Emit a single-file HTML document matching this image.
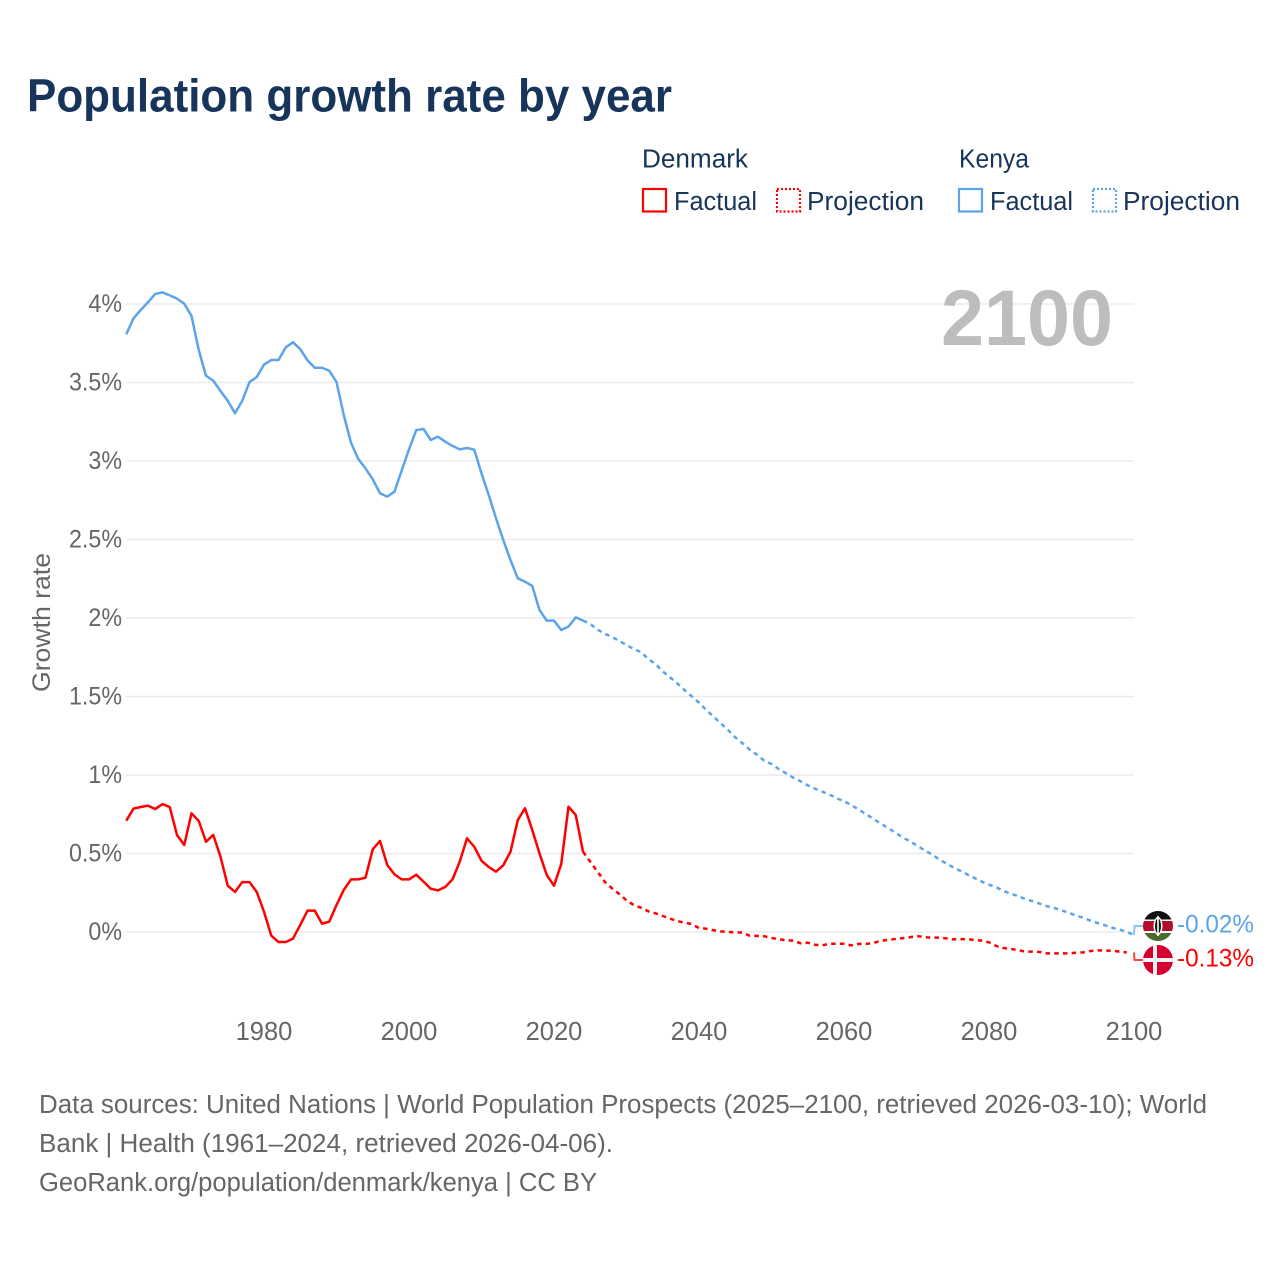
<!DOCTYPE html>
<html lang="en">
<head>
<meta charset="utf-8">
<title>Population growth rate by year</title>
<style>
html,body{margin:0;padding:0;background:#fff;}
svg{display:block;font-family:"Liberation Sans",Arial,sans-serif;}
</style>
</head>
<body>
<svg id="chart" xmlns="http://www.w3.org/2000/svg" width="1280" height="1280" viewBox="0 0 1280 1280">
  <rect width="1280" height="1280" fill="#fff"/>
  <text x="27" y="111.5" font-size="46" font-weight="700" fill="#17345a" textLength="645" lengthAdjust="spacingAndGlyphs">Population growth rate by year</text>

  <g font-size="25.5" fill="#17345a">
    <text x="642" y="167.5" textLength="106" lengthAdjust="spacingAndGlyphs">Denmark</text>
    <text x="959" y="167.5" textLength="70" lengthAdjust="spacingAndGlyphs">Kenya</text>
    <rect x="643" y="189" width="23" height="22.5" fill="none" stroke="#ff0000" stroke-width="2.2"/>
    <text x="674" y="210" textLength="83" lengthAdjust="spacingAndGlyphs">Factual</text>
    <rect x="777" y="189" width="23" height="22.5" fill="none" stroke="#ff0000" stroke-width="2.2" stroke-dasharray="2 2"/>
    <text x="807" y="210" textLength="117" lengthAdjust="spacingAndGlyphs">Projection</text>
    <rect x="959" y="189" width="23" height="22.5" fill="none" stroke="#5ba4ea" stroke-width="2.2"/>
    <text x="990" y="210" textLength="83" lengthAdjust="spacingAndGlyphs">Factual</text>
    <rect x="1093" y="189" width="23" height="22.5" fill="none" stroke="#5ba4ea" stroke-width="2.2" stroke-dasharray="2 2"/>
    <text x="1123" y="210" textLength="117" lengthAdjust="spacingAndGlyphs">Projection</text>
  </g>

  <g id="grid"></g>
  <text x="941" y="345" font-size="79" font-weight="700" fill="#bdbdbd" textLength="172" lengthAdjust="spacingAndGlyphs">2100</text>
  <text transform="translate(50 692) rotate(-90)" font-size="25" fill="#666" textLength="139" lengthAdjust="spacingAndGlyphs">Growth rate</text>
  <g id="yticks"></g>
  <g id="xticks"></g>
  <g id="series" fill="none" stroke-width="2.5" stroke-linejoin="round"></g>

  <defs>
    <clipPath id="clip-ke"><circle cx="1158" cy="926" r="15"/></clipPath>
    <clipPath id="clip-dk"><circle cx="1158" cy="960" r="15"/></clipPath>
  </defs>
  <g clip-path="url(#clip-ke)">
    <rect x="1143" y="911" width="30" height="30" fill="#fff"/>
    <rect x="1143" y="911" width="30" height="8.5" fill="#111"/>
    <rect x="1143" y="921" width="30" height="10" fill="#b0102c"/>
    <rect x="1143" y="933" width="30" height="8" fill="#4a6b2c"/>
    <ellipse cx="1158" cy="926" rx="4.5" ry="9" fill="#fff"/>
    <ellipse cx="1158" cy="926" rx="3" ry="7.5" fill="#111"/>
    <rect x="1157.2" y="916" width="1.6" height="20" fill="#fff"/>
  </g>
  <g clip-path="url(#clip-dk)">
    <rect x="1143" y="945" width="30" height="30" fill="#d4002e"/>
    <rect x="1153" y="945" width="4" height="30" fill="#f2f2f2"/>
    <rect x="1143" y="958" width="30" height="4" fill="#f2f2f2"/>
  </g>
  <text id="label-ke" x="1177" y="932.5" font-size="25" fill="#5ba4ea" textLength="77" lengthAdjust="spacingAndGlyphs"></text>
  <text id="label-dk" x="1177" y="966.5" font-size="25" fill="#ff0000" textLength="77" lengthAdjust="spacingAndGlyphs"></text>

  <g font-size="25.5" fill="#666">
    <text x="39" y="1113" textLength="1168" lengthAdjust="spacingAndGlyphs">Data sources: United Nations | World Population Prospects (2025–2100, retrieved 2026-03-10); World</text>
    <text x="39" y="1152" textLength="574" lengthAdjust="spacingAndGlyphs">Bank | Health (1961–2024, retrieved 2026-04-06).</text>
    <text x="39" y="1191" textLength="558" lengthAdjust="spacingAndGlyphs">GeoRank.org/population/denmark/kenya | CC BY</text>
  </g>
</svg>
<script>
const factualStartYear = 1961;
const projectionStartYear = 2024;
const yTicks = [0, 0.5, 1, 1.5, 2, 2.5, 3, 3.5, 4];
const yTickLabels = ["0%", "0.5%", "1%", "1.5%", "2%", "2.5%", "3%", "3.5%", "4%"];
const xTicks = [1980, 2000, 2020, 2040, 2060, 2080, 2100];
const endLabelKenya = "-0.02%";
const endLabelDenmark = "-0.13%";
const kenyaFactual = [3.807,3.909,3.962,4.011,4.064,4.074,4.055,4.034,4.002,3.924,3.707,3.543,3.512,3.446,3.384,3.304,3.384,3.503,3.535,3.614,3.643,3.643,3.724,3.756,3.713,3.641,3.594,3.594,3.575,3.503,3.293,3.117,3.013,2.953,2.883,2.794,2.773,2.804,2.941,3.074,3.197,3.204,3.134,3.155,3.123,3.096,3.074,3.083,3.072,2.921,2.783,2.635,2.497,2.369,2.253,2.231,2.204,2.051,1.983,1.983,1.924,1.945,2.004,1.983];
const kenyaProjection = [1.983,1.962,1.926,1.900,1.879,1.854,1.828,1.803,1.783,1.739,1.707,1.660,1.622,1.584,1.541,1.501,1.461,1.414,1.372,1.329,1.287,1.240,1.202,1.161,1.129,1.091,1.070,1.038,1.011,0.983,0.960,0.934,0.913,0.894,0.875,0.852,0.832,0.809,0.780,0.752,0.722,0.692,0.665,0.635,0.605,0.580,0.552,0.524,0.497,0.467,0.439,0.414,0.390,0.367,0.344,0.321,0.301,0.285,0.261,0.244,0.229,0.210,0.196,0.180,0.164,0.153,0.138,0.123,0.104,0.091,0.072,0.057,0.043,0.027,0.015,0.002,-0.02];
const denmarkFactual = [0.709,0.786,0.796,0.805,0.783,0.815,0.796,0.618,0.554,0.756,0.707,0.575,0.618,0.480,0.295,0.255,0.318,0.318,0.255,0.129,-0.023,-0.064,-0.064,-0.042,0.045,0.136,0.136,0.053,0.066,0.172,0.268,0.335,0.335,0.346,0.527,0.580,0.427,0.367,0.335,0.335,0.365,0.321,0.276,0.265,0.287,0.335,0.448,0.597,0.543,0.454,0.414,0.384,0.425,0.511,0.713,0.788,0.650,0.501,0.363,0.295,0.433,0.798,0.745,0.511];
const denmarkProjection = [0.511,0.448,0.384,0.320,0.278,0.242,0.202,0.172,0.155,0.132,0.119,0.102,0.085,0.070,0.059,0.051,0.025,0.021,0.011,0.004,0.000,-0.002,-0.004,-0.024,-0.025,-0.027,-0.038,-0.046,-0.053,-0.055,-0.072,-0.068,-0.081,-0.085,-0.075,-0.075,-0.075,-0.085,-0.076,-0.076,-0.070,-0.057,-0.051,-0.045,-0.040,-0.034,-0.025,-0.032,-0.036,-0.036,-0.040,-0.047,-0.045,-0.045,-0.051,-0.055,-0.066,-0.089,-0.102,-0.108,-0.115,-0.125,-0.125,-0.127,-0.136,-0.136,-0.136,-0.136,-0.132,-0.130,-0.121,-0.117,-0.119,-0.119,-0.125,-0.130];

const NS = "http://www.w3.org/2000/svg";
const xScale = function (year) { return 264 + (year - 1980) * 7.25; };
const yScale = function (v) { return 932 - v * 157; };
const gridGroup = document.getElementById("grid");
const yTickGroup = document.getElementById("yticks");
const xTickGroup = document.getElementById("xticks");
const seriesGroup = document.getElementById("series");

yTicks.forEach(function (v, i) {
  const line = document.createElementNS(NS, "line");
  
  
  line.setAttribute("x1", 126);
  line.setAttribute("x2", 1134);
  line.setAttribute("y1", yScale(v));
  line.setAttribute("y2", yScale(v));
  line.setAttribute("stroke", "#ebebeb");
  line.setAttribute("stroke-width", 1.6);
  gridGroup.appendChild(line);

  const t = document.createElementNS(NS, "text");
  
  
  t.setAttribute("x", 122);
  t.setAttribute("y", yScale(v) + 8);
  t.setAttribute("text-anchor", "end");
  t.setAttribute("font-size", 25);
  t.setAttribute("fill", "#666");
  t.textContent = yTickLabels[i];
  yTickGroup.appendChild(t);
  t.setAttribute("lengthAdjust", "spacingAndGlyphs");
  t.setAttribute("textLength", (t.getComputedTextLength() * 0.93).toFixed(1));
});

xTicks.forEach(function (year) {
  const t = document.createElementNS(NS, "text");
  
  
  t.setAttribute("x", xScale(year));
  t.setAttribute("y", 1040);
  t.setAttribute("text-anchor", "middle");
  t.setAttribute("font-size", 25.5);
  t.setAttribute("fill", "#666");
  t.textContent = year;
  xTickGroup.appendChild(t);
});

function pathFor(values, startYear) {
  return values.map(function (v, i) {
    return (i ? "L" : "M") + xScale(startYear + i).toFixed(2) + " " + yScale(v).toFixed(2);
  }).join(" ");
}

const kenyaFactualLine = document.createElementNS(NS, "path");


kenyaFactualLine.setAttribute("d", pathFor(kenyaFactual, factualStartYear));
kenyaFactualLine.setAttribute("stroke", "#5ba4ea");
seriesGroup.appendChild(kenyaFactualLine);

const kenyaProjectionLine = document.createElementNS(NS, "path");


kenyaProjectionLine.setAttribute("d", pathFor(kenyaProjection, projectionStartYear));
kenyaProjectionLine.setAttribute("stroke", "#5ba4ea");
kenyaProjectionLine.setAttribute("stroke-dasharray", "4.5 4.2");
seriesGroup.appendChild(kenyaProjectionLine);

const denmarkFactualLine = document.createElementNS(NS, "path");


denmarkFactualLine.setAttribute("d", pathFor(denmarkFactual, factualStartYear));
denmarkFactualLine.setAttribute("stroke", "#ff0000");
seriesGroup.appendChild(denmarkFactualLine);

const denmarkProjectionLine = document.createElementNS(NS, "path");


denmarkProjectionLine.setAttribute("d", pathFor(denmarkProjection, projectionStartYear));
denmarkProjectionLine.setAttribute("stroke", "#ff0000");
denmarkProjectionLine.setAttribute("stroke-dasharray", "4.5 4.2");
seriesGroup.appendChild(denmarkProjectionLine);

const kenyaLeader = document.createElementNS(NS, "path");


kenyaLeader.setAttribute("d", "M" + xScale(2100) + " " + yScale(kenyaProjection[kenyaProjection.length - 1]) + " L" + (xScale(2100) + 0.5) + " 926 L1144 926");
kenyaLeader.setAttribute("stroke", "#8fc0f0");
kenyaLeader.setAttribute("stroke-width", "2");
seriesGroup.appendChild(kenyaLeader);

const denmarkLeader = document.createElementNS(NS, "path");


denmarkLeader.setAttribute("d", "M" + xScale(2100) + " " + yScale(denmarkProjection[denmarkProjection.length - 1]) + " L" + (xScale(2100) + 0.5) + " 960 L1144 960");
denmarkLeader.setAttribute("stroke", "#ff4040");
denmarkLeader.setAttribute("stroke-width", "2");
seriesGroup.appendChild(denmarkLeader);

document.getElementById("label-ke").textContent = endLabelKenya;
document.getElementById("label-dk").textContent = endLabelDenmark;
</script>
</body>
</html>
